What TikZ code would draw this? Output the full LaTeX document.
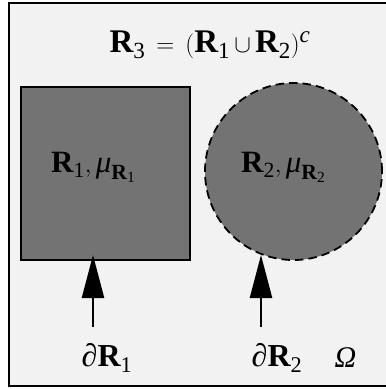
\documentclass[tikz,border=0pt]{standalone}
\usepackage{amsmath}
\usepackage{fontspec}
\setmainfont{Liberation Serif}
\usetikzlibrary{arrows.meta}
\definecolor{bgc}{HTML}{F2F2F2}
\definecolor{regc}{HTML}{737373}
\newcommand{\Rb}{\text{\bfseries R}}
\newcommand{\mymu}{\text{\itshape μ}}
\newcommand{\dg}[1]{\text{\normalfont #1}}
\tikzset{
  lbl/.style={inner sep=0pt, anchor=base},
  region/.style={fill=regc, draw=black, inner sep=0pt},
  bnd/.style={line width=2.4pt, -{Triangle[length=43pt,width=22pt]}}
}
\begin{document}
\begin{tikzpicture}[x=1pt,y=-1pt]
\useasboundingbox (0,0) rectangle (386,389);
\clip (0,0) rectangle (386,389);
\draw[line width=2.2pt, fill=bgc] (9,3) rectangle (392,386);
\node[region, line width=1.6pt, minimum width=169pt, minimum height=173pt] (sq) at (105.5,173.5) {};
\node[region, circle, dashed, dash pattern=on 8.5pt off 5pt, line width=1.8pt, minimum size=177pt] (ci) at (293.5,171.5) {};
\node[lbl, font=\fontsize{33}{35}\selectfont] (t) at (210,52) {$\Rb_{\dg{3}}\,=\,(\Rb_{\dg{1}}\,{\cup}\,\Rb_{\dg{2}})^{\text{\itshape c}}$};
\node[lbl, font=\fontsize{31}{33}\selectfont] (l1) at (93.5,172) {$\Rb_{\dg{1}},\mymu_{\Rb_{\dg{1}}}$};
\node[lbl, font=\fontsize{31}{33}\selectfont] (l2) at (283.5,172) {$\Rb_{\dg{2}},\mymu_{\Rb_{\dg{2}}}$};
\node[lbl, font=\fontsize{32}{34}\selectfont] (d1) at (107,366) {$\text{∂}\Rb_{\dg{1}}$};
\node[lbl, font=\fontsize{32}{34}\selectfont] (d2) at (277,366) {$\text{∂}\Rb_{\dg{2}}$};
\node[lbl, font=\fontsize{30}{32}\selectfont] (om) at (345.5,367) {\itshape Ω};
\coordinate (a1) at (93,327);
\coordinate (a2) at (261,327);
\coordinate (t1) at (93,255);
\coordinate (t2) at (261,255);
\draw[bnd] (a1) -- (t1);
\draw[bnd] (a2) -- (t2);
\end{tikzpicture}
\end{document}
